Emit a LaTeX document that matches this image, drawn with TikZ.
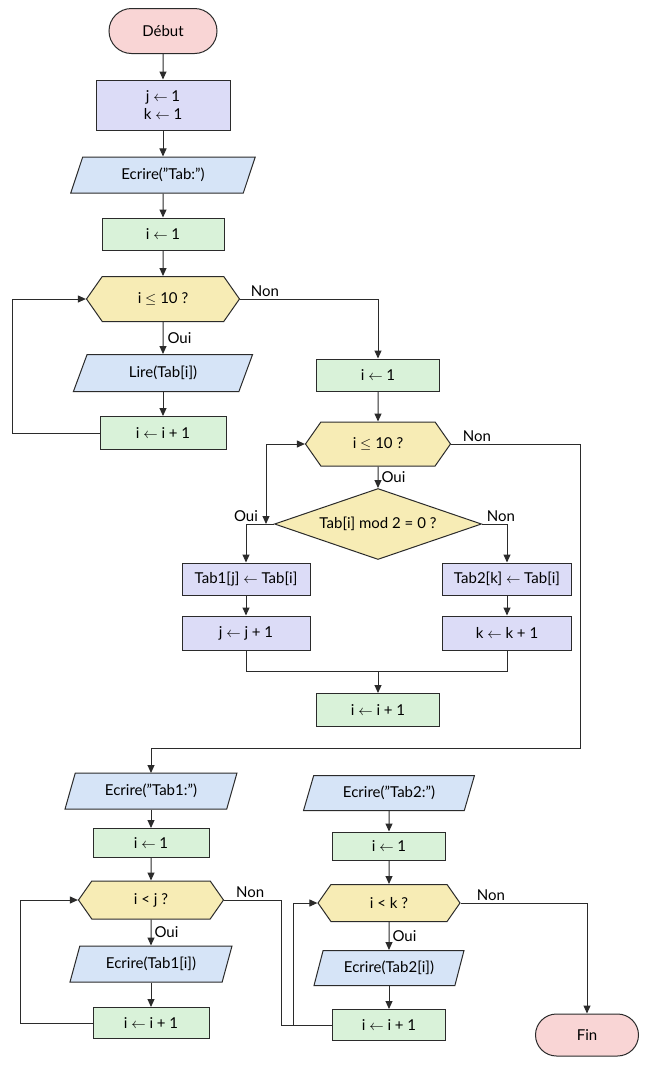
\documentclass[tikz,border=0pt]{standalone}
\usepackage{fontspec}
\setmainfont{Lato}
\usetikzlibrary{arrows.meta,shapes.geometric,shapes.misc,shapes.symbols}

\definecolor{rosef}{HTML}{F9D5D5}
\definecolor{lavf}{HTML}{DCDCF7}
\definecolor{bleuf}{HTML}{D6E4F7}
\definecolor{vertf}{HTML}{D9F2D9}
\definecolor{jaunef}{HTML}{F7ECB5}
\definecolor{trait}{HTML}{2B2B2B}

\tikzset{
    base/.style={draw=trait, line width=1pt, align=center, inner sep=2pt,
        font=\fontsize{15}{18}\selectfont},
    term/.style={base, rounded rectangle, fill=rosef},
    proc/.style={base, rectangle, fill=lavf},
    affect/.style={base, rectangle, fill=vertf},
    es/.style={base, trapezium, trapezium left angle=70, trapezium right angle=110,
        trapezium stretches=true, fill=bleuf},
    test/.style={base, signal, signal to=east and west, signal pointer angle=110, fill=jaunef},
    choix/.style={base, diamond, aspect=3, inner sep=0pt, fill=jaunef},
    fl/.style={-{Triangle[length=8pt,width=7pt]}, line width=1pt, draw=trait},
    lien/.style={line width=1pt, draw=trait},
    etiq/.style={font=\fontsize{15}{18}\selectfont, inner sep=2pt}
}

\begin{document}
\begin{tikzpicture}[x=1pt, y=-1pt]
    \fill[white] (0,0) rectangle (650,1066);
    \useasboundingbox (0,0) rectangle (650,1066);

    % premiere boucle : lecture
    \node[term, minimum width=112pt, minimum height=45pt] (debut) at (163,31) {Début};
    \node[proc, minimum width=134pt, minimum height=50pt] (init) at (163,105) {j $\leftarrow$ 1\\k $\leftarrow$ 1};
    \node[es, minimum width=186pt, minimum height=36pt] (ecr0) at (163,175) {Ecrire("Tab:")};
    \node[affect, minimum width=122pt, minimum height=32pt] (iun) at (163,234) {i $\leftarrow$ 1};
    \node[test, minimum width=153pt, minimum height=45pt] (test1) at (163,299) {i $\leq$ 10 ?};
    \node[es, minimum width=180pt, minimum height=37pt] (lire) at (163,373) {Lire(Tab[i])};
    \node[affect, minimum width=126pt, minimum height=33pt] (inc1) at (163,433) {i $\leftarrow$ i + 1};

    \draw[fl] (debut) -- (init);
    \draw[fl] (init) -- (ecr0);
    \draw[fl] (ecr0) -- (iun);
    \draw[fl] (iun) -- (test1);
    \draw[fl] (test1) -- node[etiq, right, xshift=2pt] {Oui} (lire);
    \draw[fl] (lire) -- (inc1);
    \draw[fl] (inc1.west) -- (12,433) |- (test1.west);

    % deuxieme boucle : tri pair / impair
    \node[affect, minimum width=123pt, minimum height=32pt] (iun2) at (378,375) {i $\leftarrow$ 1};
    \node[test, minimum width=145pt, minimum height=44pt] (test2) at (378,444) {i $\leq$ 10 ?};
    \node[choix, minimum width=207pt, minimum height=71pt] (modt) at (378,524) {Tab[i] mod 2 = 0 ?};
    \node[proc, minimum width=128pt, minimum height=32pt] (affA) at (246,579) {Tab1[j] $\leftarrow$ Tab[i]};
    \node[proc, minimum width=128pt, minimum height=34pt] (jinc) at (246,633) {j $\leftarrow$ j + 1};
    \node[proc, minimum width=129pt, minimum height=32pt] (affB) at (507,579) {Tab2[k] $\leftarrow$ Tab[i]};
    \node[proc, minimum width=129pt, minimum height=34pt] (kinc) at (507,633) {k $\leftarrow$ k + 1};
    \node[affect, minimum width=123pt, minimum height=33pt] (inc2) at (378,710) {i $\leftarrow$ i + 1};
    \coordinate (jonc) at (378,671);
    \coordinate (retour) at (266,524);
    \coordinate (coinA) at (580,748);

    \draw[fl] (test1.east) -| node[etiq, pos=0.09, above] {Non} (iun2.north);
    \draw[fl] (iun2) -- (test2);
    \draw[fl] (test2) -- node[etiq, right, xshift=1pt] {Oui} (modt);
    \draw[fl] (modt.west) -| node[etiq, pos=0.5, above] {Oui} (affA.north);
    \draw[fl] (modt.east) -| node[etiq, pos=0.5, above, xshift=-6pt] {Non} (affB.north);
    \draw[fl] (affA) -- (jinc);
    \draw[fl] (affB) -- (kinc);
    \draw[lien] (jinc.south) |- (jonc);
    \draw[lien] (kinc.south) |- (jonc);
    \draw[fl] (jonc) -- (inc2.north);
    \draw[fl, {Triangle[length=8pt,width=7pt]}-{Triangle[length=8pt,width=7pt]}] (retour) |- (test2.west);
    \draw[fl] (test2.east) -| node[etiq, pos=0.1, above] {Non} (coinA) -| (151,773);

    % affichage de Tab1
    \node[es, minimum width=172pt, minimum height=36pt] (ecrA) at (151,791) {Ecrire("Tab1:")};
    \node[affect, minimum width=116pt, minimum height=29pt] (iun3) at (151,843) {i $\leftarrow$ 1};
    \node[test, minimum width=145pt, minimum height=38pt] (testj) at (151,900) {i < j ?};
    \node[es, minimum width=162pt, minimum height=36pt] (ecrAi) at (151,964) {Ecrire(Tab1[i])};
    \node[affect, minimum width=116pt, minimum height=31pt] (inc3) at (151,1023) {i $\leftarrow$ i + 1};

    \draw[fl] (ecrA) -- (iun3);
    \draw[fl] (iun3) -- (testj);
    \draw[fl] (testj) -- node[etiq, right, xshift=1pt] {Oui} (ecrAi);
    \draw[fl] (ecrAi) -- (inc3);
    \draw[fl] (inc3.west) -- (20,1023) |- (testj.west);

    % affichage de Tab2
    \node[es, minimum width=171pt, minimum height=35pt] (ecrB) at (389,793) {Ecrire("Tab2:")};
    \node[affect, minimum width=113pt, minimum height=28pt] (iun4) at (389,846) {i $\leftarrow$ 1};
    \node[test, minimum width=142pt, minimum height=37pt] (testk) at (389,903) {i < k ?};
    \node[es, minimum width=150pt, minimum height=35pt] (ecrBi) at (389,968) {Ecrire(Tab2[i])};
    \node[affect, minimum width=113pt, minimum height=31pt] (inc4) at (389,1025) {i $\leftarrow$ i + 1};
    \node[term, minimum width=107pt, minimum height=42pt] (fin) at (587,1035) {Fin};
    \coordinate (coinB) at (281,1025);

    \draw[fl] (ecrB) -- (iun4);
    \draw[fl] (iun4) -- (testk);
    \draw[fl] (testk) -- node[etiq, right, xshift=1pt] {Oui} (ecrBi);
    \draw[fl] (ecrBi) -- (inc4);
    \draw[fl] (inc4.west) -- (293,1025) |- (testk.west);
    \draw[lien] (testj.east) -| node[etiq, pos=0.23, above] {Non} (coinB) -- (inc4.west);
    \draw[fl] (testk.east) -| node[etiq, pos=0.12, above] {Non} (fin.north);
\end{tikzpicture}
\end{document}
